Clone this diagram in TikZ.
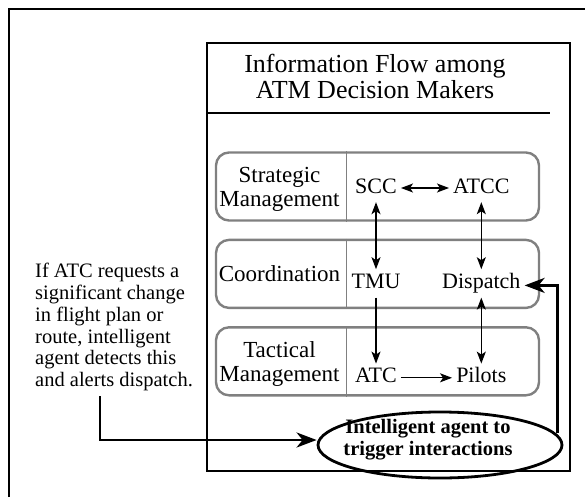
\documentclass[tikz,border=0pt]{standalone}
\usepackage{fontspec}
\setmainfont{Liberation Serif}
\usetikzlibrary{arrows.meta, positioning, shapes.geometric}
\definecolor{rowgray}{RGB}{128,128,128}

\begin{document}
\begin{tikzpicture}[x=1pt, y=-1pt,
    tier/.style={draw=rowgray, line width=2.4pt, rounded corners=13pt, minimum width=323pt, minimum height=68pt},
    tierlabel/.style={font=\fontsize{23}{23.5}\selectfont, align=center, inner sep=0pt},
    divide/.style={draw=rowgray, line width=1pt},
    actor/.style={font=\fontsize{22}{23}\selectfont, text height=15pt, text depth=5pt, inner sep=4pt},
    flow/.style={line width=1.3pt, -{Stealth[length=12pt, width=9pt, inset=3pt]}},
    twoway/.style={line width=1.3pt, {Stealth[length=12pt, width=9pt, inset=3pt]}-{Stealth[length=12pt, width=9pt, inset=3pt]}},
    agentflow/.style={line width=2.8pt, -{Stealth[length=20pt, width=15pt, inset=6pt]}},
    note/.style={font=\fontsize{20.5}{21.8}\selectfont, align=left, inner sep=0pt},
    agentbox/.style={ellipse, draw, line width=2.8pt, minimum width=244pt, minimum height=66pt, inner sep=0pt}]
  \useasboundingbox (0,0) rectangle (585,497);
  \draw[line width=1.5pt] (9,497) -- (9,9) -- (585,9);
  \draw[line width=1.5pt] (207,43) rectangle (570,471);
  \node[font=\fontsize{26}{26}\selectfont, align=center, inner sep=0pt] (title) at (375,76) {Information Flow among\\ATM Decision Makers};
  \draw[line width=1.2pt] (207,113) -- (550,113);

  \node[tier] (strategic) at (377.5,186.5) {};
  \node[tier, below=17pt of strategic] (coord) {};
  \node[tier, below=17pt of coord] (tactical) {};
  \foreach \r in {strategic, coord, tactical}
    \draw[divide] ([xshift=132pt]\r.north west) -- ([xshift=132pt]\r.south west);
  \node[tierlabel] (strategiclabel) at ([shift={(-98pt,-3pt)}]strategic.center) {Strategic\\Management};
  \node[tierlabel] (coordlabel) at ([xshift=-98pt]coord.center) {Coordination};
  \node[tierlabel] (tacticallabel) at ([shift={(-98pt,-2.6pt)}]tactical.center) {Tactical\\Management};

  \node[actor] (scc) at (376,188) {SCC};
  \node[actor, right=48pt of scc] (atcc) {ATCC};
  \node[actor, below=67pt of scc] (tmu) {TMU};
  \node[actor, below=67pt of atcc] (disp) {Dispatch};
  \node[actor, below=66pt of tmu] (atc) {ATC};
  \node[actor, below=66pt of disp] (pilots) {Pilots};
  \draw[twoway]
    (scc) edge (atcc)
    (scc) edge (tmu)
    (atcc) edge (disp)
    (disp) edge (pilots);
  \draw[flow]
    (tmu) edge (atc)
    (atc) edge (pilots);

  \node[note, anchor=north west] (note) at (35,263) {If ATC requests a\\significant change\\in flight plan or\\route, intelligent\\agent detects this\\and alerts dispatch.};
  \node[agentbox] (agent) at (440,445) {};
  \node[font=\bfseries\fontsize{20.5}{22}\selectfont, align=center, inner sep=0pt] (agenttext) at (428,440) {Intelligent agent to\\trigger interactions};
  \draw[agentflow] ([shift={(-14pt,-5pt)}]note.south) |- ([yshift=5pt]agent.west);
  \draw[agentflow] ([shift={(-6pt,12pt)}]agent.east) |- ([yshift=-2pt]disp.east);
\end{tikzpicture}
\end{document}
